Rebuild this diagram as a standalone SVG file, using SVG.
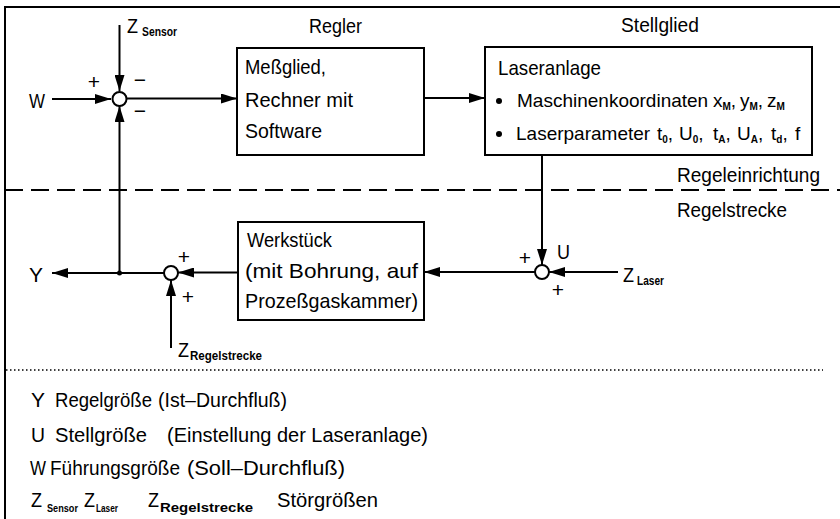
<svg xmlns="http://www.w3.org/2000/svg" width="840" height="519" viewBox="0 0 840 519">
<style>
.ln{stroke:#000;stroke-width:2;fill:none}
.bx{stroke:#000;stroke-width:2;fill:#fff}
.t{font-family:'Liberation Sans',Arial,sans-serif;font-size:21px;fill:#000}
.k{font-family:'Liberation Sans',Arial,sans-serif;font-size:19px;fill:#000}
.l{font-family:'Liberation Sans',Arial,sans-serif;font-size:20px;fill:#000}
.s{font-family:'Liberation Sans',Arial,sans-serif;font-size:12px;font-weight:bold;fill:#000}
.s2{font-family:'Liberation Sans',Arial,sans-serif;font-size:10px;font-weight:bold;fill:#000}
.sb{font-family:'Liberation Sans',Arial,sans-serif;font-size:10px;font-weight:bold;fill:#000}
.sg{font-family:'Liberation Sans',Arial,sans-serif;font-size:21px;fill:#000;text-anchor:middle}
</style>
<defs>
<marker id="ah" markerWidth="16" markerHeight="10" refX="16" refY="5" orient="auto" markerUnits="userSpaceOnUse"><path d="M0,0 L16,5 L0,10 z" fill="#000"/></marker>
</defs>
<rect width="840" height="519" fill="#fff"/>
<path class="ln" d="M5,519 V7 H840"/>
<line x1="5" y1="190" x2="840" y2="190" stroke="#000" stroke-width="2" stroke-dasharray="18 8"/>
<line x1="6" y1="370" x2="823" y2="370" stroke="#000" stroke-width="1.5" stroke-dasharray="1.5 2.5"/>
<text class="t" x="309" y="33" textLength="53" lengthAdjust="spacingAndGlyphs">Regler</text>
<text class="t" x="621" y="32" textLength="78" lengthAdjust="spacingAndGlyphs">Stellglied</text>
<text class="t" x="677" y="182" textLength="143" lengthAdjust="spacingAndGlyphs">Regeleinrichtung</text>
<text class="t" x="677" y="217" textLength="110" lengthAdjust="spacingAndGlyphs">Regelstrecke</text>

<g id="connectors">
<line class="ln" x1="52" y1="99" x2="111" y2="99" marker-end="url(#ah)"/>
<line class="ln" x1="119.5" y1="25" x2="119.5" y2="91" marker-end="url(#ah)"/>
<line class="ln" x1="127" y1="98.5" x2="237" y2="98.5" marker-end="url(#ah)"/>
<line class="ln" x1="424" y1="98" x2="485" y2="98" marker-end="url(#ah)"/>
<line class="ln" x1="542" y1="155" x2="542" y2="265" marker-end="url(#ah)"/>
<line class="ln" x1="618" y1="272" x2="549" y2="272" marker-end="url(#ah)"/>
<line class="ln" x1="535" y1="272" x2="424" y2="272" marker-end="url(#ah)"/>
<line class="ln" x1="238" y1="272.5" x2="178" y2="272.5" marker-end="url(#ah)"/>
<line class="ln" x1="164" y1="273" x2="52" y2="273" marker-end="url(#ah)"/>
<line class="ln" x1="119.5" y1="273" x2="119.5" y2="106" marker-end="url(#ah)"/>
<line class="ln" x1="171" y1="348" x2="171" y2="280" marker-end="url(#ah)"/>
<circle cx="119.5" cy="273" r="2.5" fill="#000"/>
</g>

<g id="sum1">
<circle class="bx" cx="119.5" cy="99" r="7"/>
<text class="sg" x="94" y="89">+</text>
<text class="sg" x="140" y="87">−</text>
<text class="sg" x="140" y="118">−</text>
</g>
<g id="sum2">
<circle class="bx" cx="171" cy="273" r="7"/>
<text class="sg" x="184" y="264">+</text>
<text class="sg" x="188" y="304">+</text>
</g>
<g id="sum3">
<circle class="bx" cx="542" cy="272" r="7"/>
<text class="sg" x="525" y="265">+</text>
<text class="sg" x="558" y="297">+</text>
<text class="t" x="557" y="259" textLength="13" lengthAdjust="spacingAndGlyphs">U</text>
</g>

<g id="W"><text class="t" x="29" y="108" textLength="16" lengthAdjust="spacingAndGlyphs">W</text></g>
<g id="Y"><text class="t" x="29" y="282" textLength="14" lengthAdjust="spacingAndGlyphs">Y</text></g>
<g id="ZSensor"><text class="t" x="127" y="33" textLength="11" lengthAdjust="spacingAndGlyphs">Z</text><text class="s" x="142" y="36" textLength="35" lengthAdjust="spacingAndGlyphs">Sensor</text></g>
<g id="ZLaser"><text class="t" x="623" y="282" textLength="11" lengthAdjust="spacingAndGlyphs">Z</text><text class="s" x="637" y="285" textLength="27" lengthAdjust="spacingAndGlyphs">Laser</text></g>
<g id="ZRegelstrecke"><text class="t" x="178" y="357" textLength="11" lengthAdjust="spacingAndGlyphs">Z</text><text class="s" x="190" y="360" textLength="72" lengthAdjust="spacingAndGlyphs">Regelstrecke</text></g>

<g id="regler">
<rect class="bx" x="237" y="48" width="187" height="107"/>
<text class="t" x="245" y="74" textLength="81" lengthAdjust="spacingAndGlyphs">Meßglied,</text>
<text class="t" x="245" y="107" textLength="108" lengthAdjust="spacingAndGlyphs">Rechner mit</text>
<text class="t" x="245" y="138" textLength="77" lengthAdjust="spacingAndGlyphs">Software</text>
</g>

<g id="stellglied">
<rect class="bx" x="485" y="47" width="327" height="108"/>
<text class="t" x="498" y="75" textLength="103" lengthAdjust="spacingAndGlyphs">Laseranlage</text>
<circle cx="499" cy="101" r="3"/>
<circle cx="499" cy="134" r="3"/>
<text class="k" y="107"><tspan x="517">Maschinenkoordinaten</tspan><tspan x="713">x</tspan><tspan class="sb" dy="3">M</tspan><tspan dy="-3">,</tspan><tspan x="740">y</tspan><tspan class="sb" dy="3">M</tspan><tspan dy="-3">,</tspan><tspan x="767">z</tspan><tspan class="sb" dy="3">M</tspan></text>
<text class="k" y="140"><tspan x="516">Laserparameter</tspan><tspan x="657">t</tspan><tspan class="sb" dy="3">0</tspan><tspan dy="-3">,</tspan><tspan x="679">U</tspan><tspan class="sb" dy="3">0</tspan><tspan dy="-3">,</tspan><tspan x="713">t</tspan><tspan class="sb" dy="3">A</tspan><tspan dy="-3">,</tspan><tspan x="737">U</tspan><tspan class="sb" dy="3">A</tspan><tspan dy="-3">,</tspan><tspan x="771">t</tspan><tspan class="sb" dy="3">d</tspan><tspan dy="-3">,</tspan><tspan x="795">f</tspan></text>
</g>

<g id="werkstueck">
<rect class="bx" x="238" y="222" width="186" height="98"/>
<text class="t" x="247" y="247" textLength="85" lengthAdjust="spacingAndGlyphs">Werkstück</text>
<text class="t" x="245" y="278" textLength="173" lengthAdjust="spacingAndGlyphs">(mit Bohrung, auf</text>
<text class="t" x="245" y="308" textLength="173" lengthAdjust="spacingAndGlyphs">Prozeßgaskammer)</text>
</g>

<g id="legend">
<text class="l" x="31" y="407" textLength="14" lengthAdjust="spacingAndGlyphs">Y</text>
<text class="l" x="55" y="407" textLength="97" lengthAdjust="spacingAndGlyphs">Regelgröße</text>
<text class="l" x="158" y="407" textLength="129" lengthAdjust="spacingAndGlyphs">(Ist–Durchfluß)</text>
<text class="l" x="31" y="442" textLength="14" lengthAdjust="spacingAndGlyphs">U</text>
<text class="l" x="55" y="442" textLength="92" lengthAdjust="spacingAndGlyphs">Stellgröße</text>
<text class="l" x="167" y="442" textLength="261" lengthAdjust="spacingAndGlyphs">(Einstellung der Laseranlage)</text>
<text class="l" x="30" y="475" textLength="16" lengthAdjust="spacingAndGlyphs">W</text>
<text class="l" x="50" y="475" textLength="130" lengthAdjust="spacingAndGlyphs">Führungsgröße</text>
<text class="l" x="187" y="475" textLength="158" lengthAdjust="spacingAndGlyphs">(Soll–Durchfluß)</text>
<text class="l" x="31" y="507" textLength="11" lengthAdjust="spacingAndGlyphs">Z</text><text class="s2" x="47" y="512" textLength="31" lengthAdjust="spacingAndGlyphs">Sensor</text>
<text class="l" x="84" y="507" textLength="11" lengthAdjust="spacingAndGlyphs">Z</text><text class="s2" x="96" y="512" textLength="22" lengthAdjust="spacingAndGlyphs">Laser</text>
<text class="l" x="148" y="507" textLength="11" lengthAdjust="spacingAndGlyphs">Z</text><text class="s" x="160" y="512" textLength="93" lengthAdjust="spacingAndGlyphs">Regelstrecke</text>
<text class="l" x="277" y="507" textLength="101" lengthAdjust="spacingAndGlyphs">Störgrößen</text>
</g>
</svg>
